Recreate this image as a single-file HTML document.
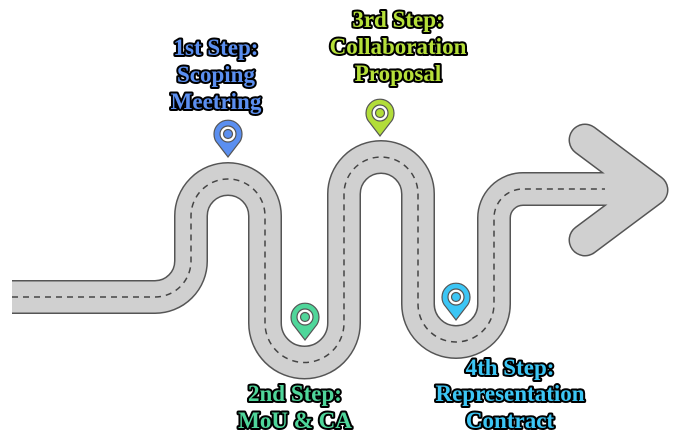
<!DOCTYPE html>
<html><head><meta charset="utf-8"><style>
html,body{margin:0;padding:0;background:#fff;}
svg{display:block;}
text{font-family:"Liberation Serif",serif;font-weight:bold;font-size:23px;text-anchor:middle;stroke:#000;stroke-width:4px;paint-order:stroke;stroke-linejoin:round;}
</style></head><body>
<svg width="696" height="442" viewBox="0 0 696 442" xmlns="http://www.w3.org/2000/svg">
<!-- outlines -->
<g fill="none" stroke="#555" stroke-linejoin="round" stroke-linecap="round">
<path d="M585 140 L652 190 L585 240" stroke-width="33"/>
<path d="M12 297 H155 A36 36 0 0 0 191 261 V216 A37 37 0 0 1 265 216 V323 A39 39 0 0 0 344 323 V194 A37 37 0 0 1 418 194 V304 A38 38 0 0 0 494 304 V218 A29 29 0 0 1 523 189 H615" stroke-width="34" stroke-linecap="butt"/>
</g>
<g fill="none" stroke="#d0d0d0" stroke-linejoin="round" stroke-linecap="round">
<path d="M585 140 L652 190 L585 240" stroke-width="30"/>
<path d="M12 297 H155 A36 36 0 0 0 191 261 V216 A37 37 0 0 1 265 216 V323 A39 39 0 0 0 344 323 V194 A37 37 0 0 1 418 194 V304 A38 38 0 0 0 494 304 V218 A29 29 0 0 1 523 189 H640" stroke-width="31" stroke-linecap="butt"/>
</g>
<path d="M12 297 H155 A36 36 0 0 0 191 261 V216 A37 37 0 0 1 265 216 V323 A39 39 0 0 0 344 323 V194 A37 37 0 0 1 418 194 V304 A38 38 0 0 0 494 304 V218 A29 29 0 0 1 523 189 H605" fill="none" stroke="#444" stroke-width="1.5" stroke-dasharray="6 5"/>
<!-- pins -->
<g stroke="#555" stroke-width="1.2">
<path d="M228 157 L218 144 A14 14 0 1 1 238 144 Z" fill="#5b8ff0"/>
<circle cx="228" cy="134" r="8" fill="#fff"/><circle cx="228" cy="134" r="4.5" fill="#5b8ff0"/>
<path d="M305 340 L295 327 A14 14 0 1 1 315 327 Z" fill="#4fd69a"/>
<circle cx="305" cy="317" r="8" fill="#fff"/><circle cx="305" cy="317" r="4.5" fill="#4fd69a"/>
<path d="M380 136 L370 123 A14 14 0 1 1 390 123 Z" fill="#b2dd3a"/>
<circle cx="380" cy="113" r="8" fill="#fff"/><circle cx="380" cy="113" r="4.5" fill="#b2dd3a"/>
<path d="M456 320 L446 307 A14 14 0 1 1 466 307 Z" fill="#3cc6f5"/>
<circle cx="456" cy="297" r="8" fill="#fff"/><circle cx="456" cy="297" r="4.5" fill="#3cc6f5"/>
</g>
<!-- labels -->
<g fill="#5b8ff0"><text x="216" y="55">1st Step:</text><text x="216" y="82">Scoping</text><text x="216" y="109">Meetring</text></g>
<g fill="#b6e03a"><text x="398" y="27">3rd Step:</text><text x="398" y="54">Collaboration</text><text x="398" y="81">Proposal</text></g>
<g fill="#4fd69a"><text x="295" y="401">2nd Step:</text><text x="295" y="428">MoU &amp; CA</text></g>
<g fill="#3cc6f5"><text x="510" y="375">4th Step:</text><text x="510" y="401">Representation</text><text x="510" y="428">Contract</text></g>
</svg>
</body></html>
